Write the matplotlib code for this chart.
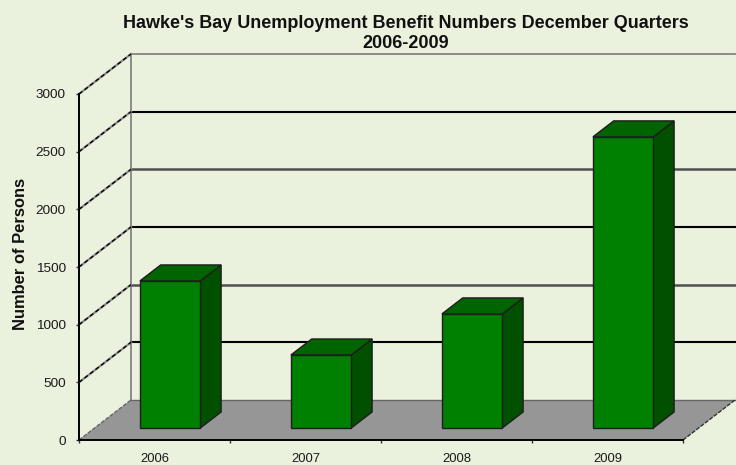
import matplotlib
matplotlib.use("Agg")
import matplotlib.pyplot as plt
from matplotlib.patches import Polygon

years = ["2006", "2007", "2008", "2009"]
persons = [1275, 633, 989, 2524]
y_ticks = [0, 500, 1000, 1500, 2000, 2500, 3000]

W, H = 736, 465
BG = "#EAF1DD"
FLOOR = "#969696"
FRONT = "#008000"
TOP = "#006400"
SIDE = "#005000"

plt.rcParams["font.family"] = ["Liberation Sans", "DejaVu Sans"]
fig = plt.figure(figsize=(W / 100, H / 100), dpi=100, facecolor=BG)

# The axes rectangle is the front plane of the 3D box
L, R, BOT, TOPY = 79, 683, 440, 94
ax = fig.add_axes([L / W, 1 - BOT / H, (R - L) / W, (BOT - TOPY) / H])
ax.set_xlim(0, 4)
ax.set_ylim(0, 3000)
ax.patch.set_visible(False)

# Depth of the box, in category and value units
DX = 52 / ((R - L) / 4)
DY = 40 / ((BOT - TOPY) / 3000)


def proj(x, y, d):
    """Shift a point on the front plane back by depth d (0 front, 1 back wall)."""
    return (x + DX * d, y + DY * d)


def quad(points, **kw):
    ax.add_patch(Polygon(points, closed=True, clip_on=False, **kw))


# Floor
quad([proj(0, 0, 0), proj(4, 0, 0), proj(4, 0, 1), proj(0, 0, 1)],
     facecolor=FLOOR, edgecolor="none", zorder=1)
ax.plot(*zip(proj(0, 0, 1), proj(4, 0, 1)), color="#666666", lw=1, clip_on=False, zorder=1.5)
ax.plot(*zip(proj(4, 0, 0), proj(4, 0, 1)), color="#333333", lw=1, ls=(0, (3, 1)),
        clip_on=False, zorder=1.5)

# Back wall border
ax.plot(*zip(proj(0, 0, 1), proj(0, 3000, 1)), color="#8C8C8C", lw=1.4, clip_on=False, zorder=1.2)
ax.plot(*zip(proj(0, 3000, 1), proj(4, 3000, 1)), color="#8C8C8C", lw=1.4, clip_on=False, zorder=1.2)

# Grid lines on the back wall and the left side wall
for v in y_ticks[1:]:
    if v < 3000:
        shade, width = ("#000000", 1.5) if v in (500, 1500, 2500) else ("#505050", 1.8)
        ax.plot(*zip(proj(0, v, 1), proj(4, v, 1)), color=shade, lw=width, clip_on=False, zorder=1.3)
    ax.plot(*zip(proj(0, v, 0), proj(0, v, 1)), color="#8C8C8C", lw=1.6, clip_on=False, zorder=1.3)
    ax.plot(*zip(proj(0, v, 0), proj(0, v, 1)), color="#000000", lw=1.0, ls=(0, (3, 2)),
            clip_on=False, zorder=1.35)
ax.plot(*zip(proj(0, 0, 0), proj(0, 0, 1)), color="#666666", lw=1, ls=(0, (3, 1)),
        clip_on=False, zorder=1.5)

# Bars stand 0.3 of the way into the box and fill 0.3 of its depth
BAR_W = 0.4
D0, D1 = 0.3, 0.7
EDGE = dict(edgecolor="#1E1E1E", linewidth=1.0, joinstyle="miter")
for i, v in enumerate(persons):
    x0 = i + 0.5 - BAR_W / 2
    x1 = i + 0.5 + BAR_W / 2
    quad([proj(x1, 0, D0), proj(x1, 0, D1), proj(x1, v, D1), proj(x1, v, D0)],
         facecolor=SIDE, zorder=3, **EDGE)
    quad([proj(x0, v, D0), proj(x1, v, D0), proj(x1, v, D1), proj(x0, v, D1)],
         facecolor=TOP, zorder=3, **EDGE)
    quad([proj(x0, 0, D0), proj(x1, 0, D0), proj(x1, v, D0), proj(x0, v, D0)],
         facecolor=FRONT, zorder=4, **EDGE)

# Axes
for name in ("top", "right"):
    ax.spines[name].set_visible(False)
for name in ("left", "bottom"):
    ax.spines[name].set_linewidth(1.4)
    ax.spines[name].set_color("#000000")
    ax.spines[name].set_zorder(5)

ax.set_yticks(y_ticks)
ax.set_xticks(range(5))
ax.set_xticklabels([])
ax.tick_params(axis="both", length=2.5, width=1, color="#333333", labelsize=9.7, pad=7,
               labelcolor="#1A1A1A")
for i, name in enumerate(years):
    ax.annotate(name, xy=(i + 0.5, 0), xycoords=("data", "axes fraction"),
                xytext=(0, -9.6), textcoords="offset points",
                ha="center", va="top", fontsize=9.4, color="#1A1A1A", annotation_clip=False)

fig.text(406 / W, 1 - 23 / H, "Hawke's Bay Unemployment Benefit Numbers December Quarters",
         ha="center", va="center", fontsize=13, fontweight="bold", color="#111111")
fig.text(406 / W, 1 - 44 / H, "2006-2009",
         ha="center", va="center", fontsize=13, fontweight="bold", color="#111111")
fig.text(21 / W, 1 - 254 / H, "Number of Persons", rotation=90,
         ha="center", va="center", fontsize=11.9, fontweight="bold", color="#111111")

fig.savefig("out.png", dpi=100, facecolor=BG)
